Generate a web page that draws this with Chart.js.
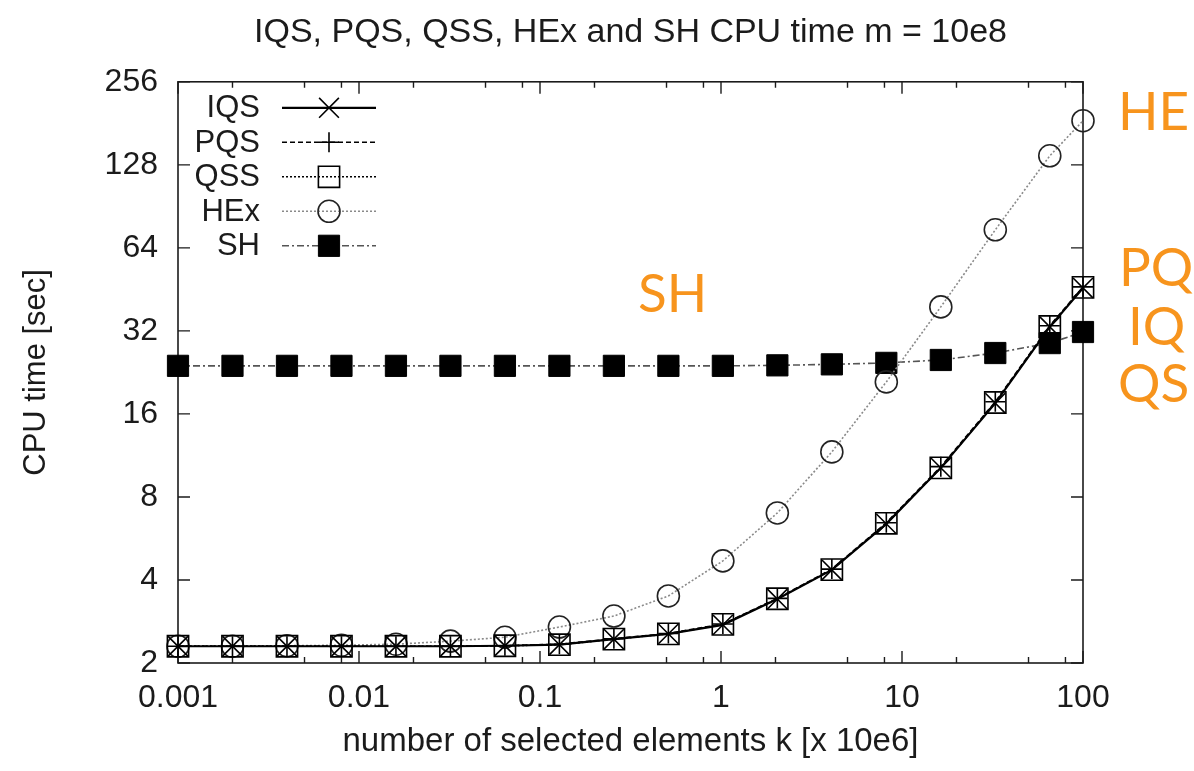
<!DOCTYPE html>
<html>
<head>
<meta charset="utf-8">
<title>IQS, PQS, QSS, HEx and SH CPU time</title>
<script src="https://cdn.jsdelivr.net/npm/chart.js@4"></script>
<style>
  html, body { margin: 0; padding: 0; background: #fff; }
  #wrap { width: 1194px; height: 771px; }
</style>
</head>
<body>
<div id="wrap"><canvas id="cpuChart" width="1194" height="771"></canvas></div>
<script>
// ================= DATA =================
const kValues = [0.001, 0.002, 0.004, 0.008, 0.016, 0.032, 0.064, 0.128, 0.256,
  0.512, 1.024, 2.048, 4.096, 8.192, 16.384, 32.768, 65.536, 100];

const iqsTimes = [2.30, 2.30, 2.30, 2.30, 2.30, 2.30, 2.31, 2.33, 2.44,
  2.55, 2.75, 3.41, 4.35, 6.39, 10.2, 17.5, 33.1, 45.8];
const pqsTimes = [2.30, 2.30, 2.30, 2.30, 2.30, 2.30, 2.31, 2.34, 2.45,
  2.56, 2.77, 3.43, 4.38, 6.45, 10.3, 17.7, 33.4, 46.2];
const qssTimes = [2.30, 2.30, 2.30, 2.30, 2.30, 2.30, 2.31, 2.33, 2.44,
  2.55, 2.76, 3.42, 4.36, 6.42, 10.2, 17.6, 33.2, 46.0];
const hexTimes = [2.30, 2.30, 2.31, 2.32, 2.34, 2.40, 2.48, 2.70, 2.96,
  3.50, 4.69, 7.0, 11.65, 20.9, 39.1, 74.4, 138, 185];
const shTimes = [23.9, 23.9, 23.9, 23.9, 23.9, 23.9, 23.9, 23.9, 23.9,
  23.9, 23.9, 24.0, 24.2, 24.5, 25.1, 26.6, 28.9, 31.7];

const yTicks = [2, 4, 8, 16, 32, 64, 128, 256];
const xTicks = [0.001, 0.01, 0.1, 1, 10, 100];
const xMinorTicks = [0.002, 0.005, 0.008, 0.02, 0.05, 0.08, 0.2, 0.5, 0.8,
  2, 5, 8, 20, 50, 80];

const orangeNotes = ["HE", "SH", "PQ", "IQ", "QS"];

// ================= HELPERS =================
const FONT = "'Liberation Sans', Arial, Helvetica, sans-serif";
const INK = "#1b1b1b";
const ORANGE = "#F7941D";

function pts(values) {
  return kValues.map((k, i) => ({ x: k, y: values[i] }));
}

// ================= FRAME + INWARD TICKS =================
const frameTicks = {
  id: "frameTicks",
  beforeDatasetsDraw(chart) {
    const { ctx, chartArea: a, scales: { x, y } } = chart;
    ctx.save();
    ctx.strokeStyle = INK;
    ctx.lineWidth = 1.6;
    ctx.strokeRect(a.left, a.top, a.right - a.left, a.bottom - a.top);

    ctx.lineWidth = 1.4;
    ctx.beginPath();
    xTicks.forEach(v => {
      const px = x.getPixelForValue(v);
      ctx.moveTo(px, a.bottom); ctx.lineTo(px, a.bottom - 12);
      ctx.moveTo(px, a.top); ctx.lineTo(px, a.top + 12);
    });
    xMinorTicks.forEach(v => {
      const px = x.getPixelForValue(v);
      ctx.moveTo(px, a.bottom); ctx.lineTo(px, a.bottom - 6);
      ctx.moveTo(px, a.top); ctx.lineTo(px, a.top + 6);
    });
    yTicks.forEach(v => {
      const py = y.getPixelForValue(v);
      ctx.moveTo(a.left, py); ctx.lineTo(a.left + 12, py);
      ctx.moveTo(a.right, py); ctx.lineTo(a.right - 12, py);
    });
    ctx.stroke();
    ctx.restore();
  }
};

// ================= LEGEND (inside, top-left) =================
const insideLegend = {
  id: "insideLegend",
  afterDraw(chart) {
    const { ctx, chartArea: a } = chart;
    ctx.save();
    ctx.font = "31px " + FONT;
    ctx.textAlign = "right";
    ctx.textBaseline = "middle";
    chart.data.datasets.forEach((ds, i) => {
      const rowY = a.top + 26 + i * 34.5;
      ctx.fillStyle = INK;
      ctx.fillText(ds.label, a.left + 82, rowY + 1);

      ctx.strokeStyle = ds.borderColor;
      ctx.lineWidth = ds.borderWidth;
      ctx.setLineDash(ds.borderDash || []);
      ctx.beginPath();
      ctx.moveTo(a.left + 104, rowY);
      ctx.lineTo(a.left + 198, rowY);
      ctx.stroke();
      ctx.setLineDash([]);

      ctx.strokeStyle = ds.pointBorderColor;
      ctx.fillStyle = ds.pointBackgroundColor;
      ctx.lineWidth = ds.pointBorderWidth;
      Chart.helpers.drawPoint(ctx, {
        pointStyle: ds.pointStyle,
        radius: ds.pointRadius,
        rotation: 0,
        borderWidth: ds.pointBorderWidth
      }, a.left + 151, rowY);
    });
    ctx.restore();
  }
};

// ================= ORANGE NOTES =================
const notes = {
  id: "notes",
  afterDraw(chart) {
    const { ctx, chartArea: a } = chart;
    ctx.save();
    ctx.font = "53px Lato, 'Open Sans', sans-serif";
    ctx.fillStyle = ORANGE;
    ctx.textAlign = "left";
    ctx.textBaseline = "middle";
    ctx.fillText(orangeNotes[0], a.right + 35, a.top + 31);
    ctx.fillText(orangeNotes[1], a.left + 460, a.top + 213);
    ctx.fillText(orangeNotes[2], a.right + 36, a.top + 187);
    ctx.fillText(orangeNotes[3], a.right + 45, a.top + 246);
    ctx.fillText(orangeNotes[4], a.right + 35, a.top + 303);
    ctx.restore();
  }
};

// ================= CHART =================
const ctx = document.getElementById("cpuChart").getContext("2d");

new Chart(ctx, {
  type: "line",
  data: {
    datasets: [
      {
        label: "IQS", data: pts(iqsTimes),
        borderColor: "#000", borderWidth: 2.2, borderDash: [],
        pointStyle: "crossRot", pointRadius: 14, pointBorderWidth: 1.6,
        pointBorderColor: "#000", pointBackgroundColor: "rgba(0,0,0,0)"
      },
      {
        label: "PQS", data: pts(pqsTimes),
        borderColor: "#000", borderWidth: 1.6, borderDash: [5, 3],
        pointStyle: "cross", pointRadius: 10, pointBorderWidth: 1.6,
        pointBorderColor: "#000", pointBackgroundColor: "rgba(0,0,0,0)"
      },
      {
        label: "QSS", data: pts(qssTimes),
        borderColor: "#000", borderWidth: 1.6, borderDash: [2, 2],
        pointStyle: "rect", pointRadius: 15, pointBorderWidth: 1.6,
        pointBorderColor: "#000", pointBackgroundColor: "rgba(0,0,0,0)"
      },
      {
        label: "HEx", data: pts(hexTimes),
        borderColor: "#8a8a8a", borderWidth: 1.6, borderDash: [2, 2],
        pointStyle: "circle", pointRadius: 11, pointBorderWidth: 1.6,
        pointBorderColor: "#222", pointBackgroundColor: "rgba(0,0,0,0)"
      },
      {
        label: "SH", data: pts(shTimes),
        borderColor: "#555", borderWidth: 1.6, borderDash: [7, 3, 2, 3],
        pointStyle: "rect", pointRadius: 15, pointBorderWidth: 1,
        pointBorderColor: "#000", pointBackgroundColor: "#000"
      }
    ].map(ds => Object.assign(ds, { fill: false, tension: 0, clip: false, pointHoverRadius: ds.pointRadius }))
  },
  options: {
    responsive: false,
    animation: false,
    layout: { padding: { left: 0, right: 111, top: 0, bottom: 0 } },
    plugins: {
      legend: { display: false },
      tooltip: { enabled: false },
      title: {
        display: true,
        fullSize: false,
        text: "IQS, PQS, QSS, HEx and SH CPU time m = 10e8",
        color: INK,
        font: { family: FONT, size: 34, weight: "normal" },
        padding: { top: 12, bottom: 29 }
      }
    },
    scales: {
      x: {
        type: "logarithmic",
        min: 0.001,
        max: 100,
        afterBuildTicks: s => { s.ticks = xTicks.map(v => ({ value: v })); },
        afterFit: s => { s.height = 108; },
        grid: { display: false, drawTicks: false },
        border: { display: false },
        ticks: {
          color: INK,
          padding: 16,
          maxRotation: 0,
          autoSkip: false,
          font: { family: FONT, size: 32 },
          callback: v => String(v)
        },
        title: {
          display: true,
          text: "number of selected elements k [x 10e6]",
          color: INK,
          font: { family: FONT, size: 33 },
          padding: { top: 9, bottom: 9 }
        }
      },
      y: {
        type: "logarithmic",
        min: 2,
        max: 256,
        afterBuildTicks: s => { s.ticks = yTicks.map(v => ({ value: v })); },
        afterFit: s => { s.width = 178; },
        grid: { display: false, drawTicks: false },
        border: { display: false },
        ticks: {
          color: INK,
          padding: 20,
          autoSkip: false,
          font: { family: FONT, size: 32 },
          callback: v => String(v)
        },
        title: {
          display: true,
          text: "CPU time [sec]",
          color: INK,
          font: { family: FONT, size: 31 },
          padding: { top: 18, bottom: 10 }
        }
      }
    }
  },
  plugins: [frameTicks, insideLegend, notes]
});
</script>
</body>
</html>
